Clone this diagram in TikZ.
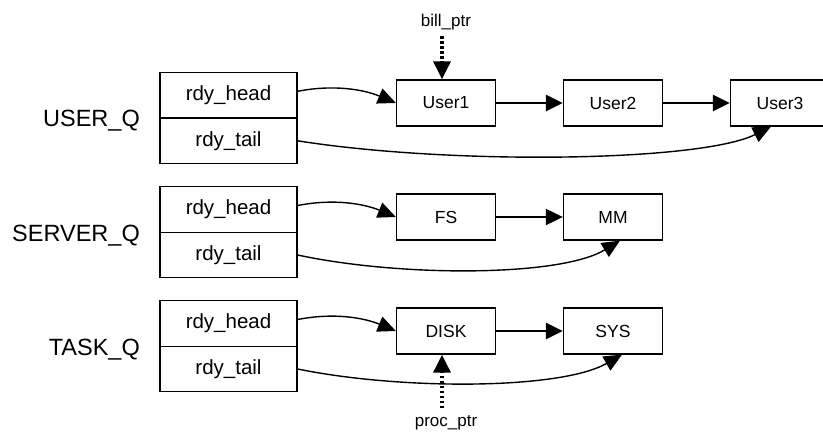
\documentclass[tikz,border=0pt]{standalone}
\usepackage{fontspec}
\setmainfont{Liberation Sans}
\usetikzlibrary{arrows.meta}

\begin{document}
\begin{tikzpicture}[x=1pt, y=-1pt]
\tikzstyle{field} = [draw=black, line width=1.3pt, minimum width=137pt, minimum height=45.5pt, inner sep=0pt, font=\fontsize{20.5}{24}\selectfont]
\tikzstyle{elem} = [draw=black, line width=1.3pt, minimum width=99pt, minimum height=46pt, inner sep=0pt, font=\fontsize{17.5}{21}\selectfont]
\tikzstyle{qname} = [anchor=base east, inner sep=0pt, font=\fontsize{23.5}{28}\selectfont]
\tikzstyle{ptr} = [inner sep=2pt, font=\fontsize{17}{20}\selectfont]
\tikzstyle{link} = [-{Triangle[length=17pt, width=16pt]}, line width=2.6pt]
\tikzstyle{curve} = [-{Triangle[length=18pt, width=16pt]}, line width=1.4pt]
\tikzstyle{dots} = [-{Triangle[length=18pt, width=17pt]}, line width=3.2pt, dash pattern=on 2.5pt off 2.5pt]
\useasboundingbox (0,0) rectangle (823,433);
% queue headers
\node[field] (uh) at (228.5,95.3) {rdy\_head};
\node[field] (ut) at (228.5,140.8) {rdy\_tail};
\node[qname] (uq) at (140,126.5) {USER\_Q};
\node[field] (sh) at (228.5,209.5) {rdy\_head};
\node[field] (st) at (228.5,255) {rdy\_tail};
\node[qname] (sq) at (140,242) {SERVER\_Q};
\node[field] (th) at (228.5,323.5) {rdy\_head};
\node[field] (tt) at (228.5,369) {rdy\_tail};
\node[qname] (tq) at (140,355.5) {TASK\_Q};
% processes
\node[elem] (u1) at (446,103) {User1};
\node[elem] (u2) at (613,103) {User2};
\node[elem] (u3) at (780,103) {User3};
\node[elem] (fs) at (446,217) {FS};
\node[elem] (mm) at (613,217) {MM};
\node[elem] (dk) at (446,331) {DISK};
\node[elem] (sy) at (613,331) {SYS};
\node[ptr] (bp) at (446,22) {bill\_ptr};
\node[ptr] (pp) at (446,422.5) {proc\_ptr};
% chains
\draw[link] (u1) -- (u2);
\draw[link] (u2) -- (u3);
\draw[link, line width=2pt] (fs) -- (mm);
\draw[link] (dk) -- (sy);
% head and tail pointers
\draw[curve] ([yshift=4pt]uh.east) .. controls (335,84) and (365,90) .. (u1.west);
\draw[curve] ([yshift=4pt]sh.east) .. controls (335,198.2) and (365,204.2) .. (fs.west);
\draw[curve] ([yshift=4pt]th.east) .. controls (335,312.2) and (365,318.2) .. (dk.west);
\draw[curve] (ut.east) .. controls (450,165) and (700,162) .. ([xshift=-9pt]u3.south);
\draw[curve] (st.east) .. controls (400,277) and (560,277) .. ([xshift=7pt]mm.south);
\draw[curve] (tt.east) .. controls (400,390) and (560,390) .. ([xshift=9pt]sy.south);
% bill_ptr and proc_ptr
\draw[dots, shorten <=4pt] ([xshift=-4pt]bp.south) -- ([xshift=-4pt]u1.north);
\draw[dots, shorten <=5pt] ([xshift=-4pt]pp.north) -- ([xshift=-4pt]dk.south);
\end{tikzpicture}
\end{document}
